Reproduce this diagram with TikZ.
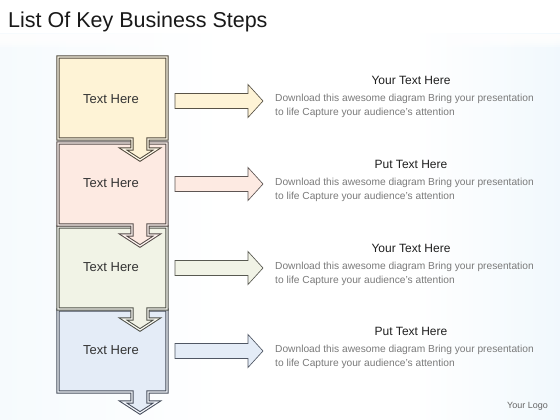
\documentclass[tikz,border=0pt]{standalone}
\usepackage{fontspec}
\setmainfont{Liberation Sans}
\definecolor{bgL}{HTML}{E0EFF9}
\definecolor{bgR}{HTML}{D6EBF8}
\definecolor{fillA}{HTML}{FEF3D6}
\definecolor{lineA}{HTML}{302818}
\definecolor{fillB}{HTML}{FDEAE2}
\definecolor{lineB}{HTML}{362a28}
\definecolor{fillC}{HTML}{F1F3E6}
\definecolor{lineC}{HTML}{2E3026}
\definecolor{fillD}{HTML}{E4ECF7}
\definecolor{lineD}{HTML}{242D3D}
\definecolor{desc}{HTML}{7A7A7A}
\pgfdeclarehorizontalshading{bgshade}{100bp}{color(0bp)=(bgL); color(18bp)=(white!60!bgL); color(45bp)=(white); color(62bp)=(white); color(85bp)=(white!40!bgR); color(100bp)=(bgR)}
\tikzset{
  stepbox/.style={line width=1pt, double distance=1.2pt, line join=miter},
  sidearrow/.style={line width=0.65pt, draw=#1},
  boxlabel/.style={font=\fontsize{13}{15}\selectfont, text=black!80},
  headlabel/.style={font=\fontsize{12}{14}\selectfont, text=black!88},
  desclabel/.style={font=\fontsize{10.2}{14}\selectfont, text=desc, align=left, anchor=west, inner sep=0pt},
}
\begin{document}
\begin{tikzpicture}[x=1pt,y=-1pt]
\useasboundingbox (0,0) rectangle (560,420);
\fill[white] (0,0) rectangle (560,420);
\shade[shading=bgshade] (0,34) rectangle (560,420);
\foreach \k in {0,...,7}{
  \fill[white, opacity=0.35] (0,34) rectangle (560,34+\k*1.8);
}
\node[anchor=west, font=\fontsize{21.5}{25}\selectfont, text=black!90, inner sep=0pt] (title) at (8,22) {List Of Key Business Steps};
% boxes drawn bottom to top so arrows overlap next box
\foreach \T/\fc/\lc [count=\i] in {310/fillD/lineD, 227/fillC/lineC, 143/fillB/lineB, 57/fillA/lineA}{
  \pgfmathsetmacro{\B}{\T+82}
  \draw[stepbox, draw=\lc!85, double=white!50!\fc, fill=\fc]
    (58,\T) -- (167,\T) -- (167,\B) -- (148,\B) -- (148,\B+10) -- (157,\B+10)
    -- (140,\B+21) -- (123,\B+10) -- (132,\B+10) -- (132,\B) -- (58,\B) -- cycle;
  \fill[\fc] (61.5,\T+3.5) rectangle (163.5,\B-3.5);
}
% side arrows
\foreach \c/\fc/\lc in {101/fillA/lineA, 184/fillB/lineB, 268/fillC/lineC, 351/fillD/lineD}{
  \draw[sidearrow=\lc!80, fill=\fc]
    (175,\c-7.5) -- (248,\c-7.5) -- (248,\c-16.5) -- (263,\c) -- (248,\c+16.5)
    -- (248,\c+7.5) -- (175,\c+7.5) -- cycle;
}
\node[boxlabel] (t1) at (111,99) {Text Here};
\node[boxlabel] (t2) at (111,183) {Text Here};
\node[boxlabel] (t3) at (111,267) {Text Here};
\node[boxlabel] (t4) at (111,350) {Text Here};
\node[headlabel] (h1) at (411,80) {Your Text Here};
\node[headlabel] (h2) at (411,164) {Put Text Here};
\node[headlabel] (h3) at (411,248) {Your Text Here};
\node[headlabel] (h4) at (411,331) {Put Text Here};
\node[desclabel] (d1) at (275,106) {Download this awesome diagram Bring your presentation\\to life Capture your audience's attention};
\node[desclabel] (d2) at (275,190) {Download this awesome diagram Bring your presentation\\to life Capture your audience's attention};
\node[desclabel] (d3) at (275,274) {Download this awesome diagram Bring your presentation\\to life Capture your audience's attention};
\node[desclabel] (d4) at (275,357) {Download this awesome diagram Bring your presentation\\to life Capture your audience's attention};
\node[anchor=east, font=\fontsize{9}{11}\selectfont, text=black!60, inner sep=0pt] (logo) at (548,406) {Your Logo};
\end{tikzpicture}
\end{document}
